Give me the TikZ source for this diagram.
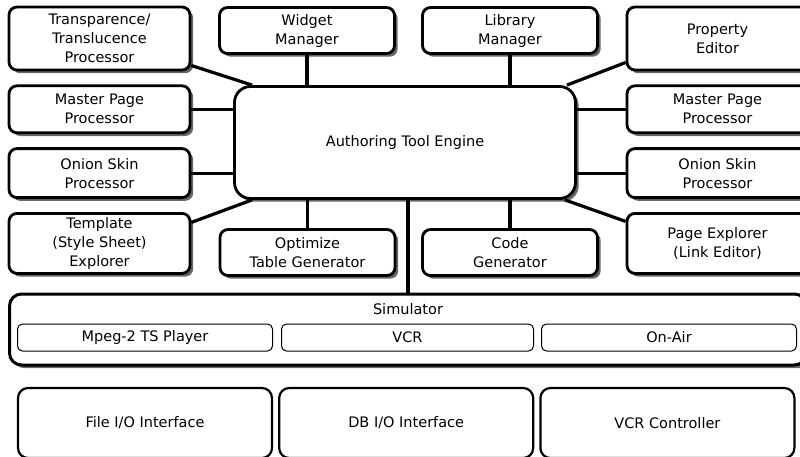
\documentclass[tikz,border=0pt]{standalone}
\usepackage{fontspec}
\setmainfont{DejaVu Sans}
\usetikzlibrary{positioning, shadows}

\tikzset{
  module/.style={draw, line width=2.8pt, rounded corners=8pt, fill=white, align=center,
    drop shadow={shadow xshift=3.2pt, shadow yshift=-3.2pt, fill=black!60, opacity=1}},
  player/.style={draw, line width=1pt, rounded corners=5pt, align=center, minimum height=27pt},
  iface/.style={draw, line width=2.2pt, rounded corners=10pt, align=center, minimum height=70pt, minimum width=254pt},
  link/.style={line width=3.2pt}
}

\begin{document}
\begin{tikzpicture}
	[x=1pt, y=-1pt, node distance=13pt, font=\fontsize{14.5}{19}\selectfont]
   \useasboundingbox (0,0) rectangle (800,456);
   \clip (0,0) rectangle (800,456);

   % left column
   \node[module, minimum width=181pt, minimum height=63pt] (trans) at (99.5,38.5) {Transparence/\\Translucence\\Processor};
   \node[module, minimum width=181pt, minimum height=47pt] (mpl) [below=of trans] {Master Page\\Processor};
   \node[module, minimum width=181pt, minimum height=49pt] (osl) [below=of mpl] {Onion Skin\\Processor};
   \node[module, minimum width=181pt, minimum height=60pt] (tmpl) [below=of osl] {Template\\(Style Sheet)\\Explorer};

   % right column
   \node[module, minimum width=181pt, minimum height=63pt] (prop) at (717.5,38.5) {Property\\Editor};
   \node[module, minimum width=181pt, minimum height=47pt] (mpr) [below=of prop] {Master Page\\Processor};
   \node[module, minimum width=181pt, minimum height=49pt] (osr) [below=of mpr] {Onion Skin\\Processor};
   \node[module, minimum width=181pt, minimum height=60pt] (pexp) [below=of osr] {Page Explorer\\(Link Editor)};

   % middle
   \node[module, minimum width=175pt, minimum height=46pt] (widget) at (307,30.5) {Widget\\Manager};
   \node[module, minimum width=175pt, minimum height=46pt] (library) at (510,30.5) {Library\\Manager};
   \node[module, rounded corners=16pt, minimum width=341pt, minimum height=112pt] (engine) at (405,142.5) {Authoring Tool Engine};
   \node[module, minimum width=175pt, minimum height=46pt] (opt) at (307.5,252.5) {Optimize\\Table Generator};
   \node[module, minimum width=175pt, minimum height=46pt] (code) at (510,252.5) {Code\\Generator};

   % simulator
   \node[module, line width=3pt, rounded corners=12pt, minimum width=797pt, minimum height=71pt] (sim) at (408,329.5) {};
   \node (simname) at ([yshift=-17pt]sim.north) {Simulator};
   \node[player, minimum width=255pt] (mpeg) at (145,337.5) {Mpeg-2 TS Player};
   \node[player, minimum width=252pt] (vcr) [right=8pt of mpeg] {VCR};
   \node[player, minimum width=255pt] (onair) [right=7pt of vcr] {On-Air};

   % interfaces
   \node[iface] (fileio) at (145,423) {File I/O Interface};
   \node[iface] (dbio) [right=5pt of fileio] {DB I/O Interface};
   \node[iface] (vcrctl) [right=5pt of dbio] {VCR Controller};

   % connectors
   \draw[link] ([yshift=-27pt]trans.east) -- ([xshift=19pt]engine.north west);
   \draw[link] (widget.south) -- (widget.south |- engine.north);
   \draw[link] (library.south) -- (library.south |- engine.north);
   \draw[link] ([yshift=-24pt]prop.west) -- ([xshift=-10pt]engine.north east);
   \draw[link] (mpl.east) -- (mpl.east -| engine.west);
   \draw[link] (osl.east) -- (osl.east -| engine.west);
   \draw[link] (mpr.west) -- (mpr.west -| engine.east);
   \draw[link] (osr.west) -- (osr.west -| engine.east);
   \draw[link] ([yshift=21pt]tmpl.east) -- ([xshift=19pt]engine.south west);
   \draw[link] ([yshift=22pt]pexp.west) -- ([xshift=-12pt]engine.south east);
   \draw[link] (opt.north) -- (opt.north |- engine.south);
   \draw[link] (code.north) -- (code.north |- engine.south);
   \draw[link] ([xshift=3pt]engine.south) -- ([xshift=3pt]engine.south |- sim.north);

\end{tikzpicture}
\end{document}
